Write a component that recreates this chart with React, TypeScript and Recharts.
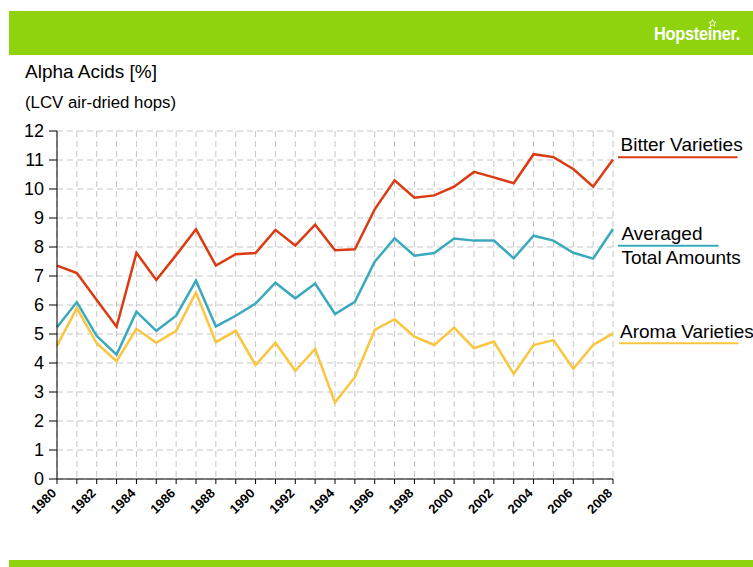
import { LineChart, Line, XAxis, YAxis, CartesianGrid } from "recharts";

const YEARS = [
  1980, 1981, 1982, 1983, 1984, 1985, 1986, 1987, 1988, 1989, 1990, 1991, 1992, 1993, 1994,
  1995, 1996, 1997, 1998, 1999, 2000, 2001, 2002, 2003, 2004, 2005, 2006, 2007, 2008,
];

const BITTER = [
  7.36, 7.1, 6.17, 5.25, 7.8, 6.86, 7.72, 8.61, 7.36, 7.75, 7.79, 8.59, 8.05, 8.77, 7.89,
  7.92, 9.3, 10.3, 9.7, 9.78, 10.08, 10.59, 10.4, 10.2, 11.2, 11.1, 10.69, 10.08, 11.02,
];

const AVERAGED = [
  5.23, 6.1, 4.93, 4.29, 5.77, 5.11, 5.63, 6.84, 5.26, 5.63, 6.05, 6.77, 6.23, 6.74, 5.69,
  6.11, 7.49, 8.3, 7.7, 7.79, 8.29, 8.22, 8.22, 7.61, 8.39, 8.22, 7.8, 7.6, 8.62,
];

const AROMA = [
  4.6, 5.89, 4.68, 4.06, 5.18, 4.7, 5.11, 6.43, 4.72, 5.11, 3.93, 4.7, 3.73, 4.49, 2.64,
  3.51, 5.14, 5.51, 4.91, 4.62, 5.22, 4.51, 4.74, 3.62, 4.62, 4.79, 3.8, 4.62, 5.02,
];

const Y_TICKS = [0, 1, 2, 3, 4, 5, 6, 7, 8, 9, 10, 11, 12];

const GREEN = "#8ed30e";
const RED = "#dc3a10";
const TEAL = "#3aa9bd";
const YELLOW = "#fcc53e";
const FONT = "'Liberation Sans', Arial, sans-serif";

const data = YEARS.map((year, i) => ({
  year,
  bitter: BITTER[i],
  averaged: AVERAGED[i],
  aroma: AROMA[i],
}));

// only even years get a label, every year gets a tick mark
function YearTick(props: any) {
  const { x, y, payload } = props;
  if (payload.value % 2 !== 0) return <g />;
  const ay = y + 8;
  return (
    <text
      x={x}
      y={ay}
      transform={`rotate(-45 ${x} ${ay})`}
      textAnchor="end"
      fontSize={13}
      fontWeight="bold"
      fill="#000"
      fontFamily={FONT}
    >
      {payload.value}
    </text>
  );
}

export default function App() {
  return (
    <div style={{ position: "relative", width: 753, height: 567, fontFamily: FONT, background: "#fff" }}>
      <style>{"body{margin:0}"}</style>
      <div style={{ position: "absolute", left: 0, top: 0 }}>
        <LineChart
          width={753}
          height={567}
          data={data}
          margin={{ top: 131, right: 140, bottom: 48, left: 0 }}
        >
          <CartesianGrid strokeDasharray="6 4" stroke="#c6c6c6" />
          <XAxis
            type="number"
            dataKey="year"
            domain={[1980, 2008]}
            ticks={YEARS}
            interval={0}
            height={40}
            tickSize={5}
            axisLine={{ stroke: "#000" }}
            tickLine={{ stroke: "#000" }}
            tick={<YearTick />}
          />
          <YAxis
            domain={[0, 12]}
            ticks={Y_TICKS}
            interval={0}
            width={57}
            tickSize={8}
            tickMargin={5}
            axisLine={{ stroke: "#000" }}
            tickLine={{ stroke: "#000" }}
            tick={{ fontSize: 18, fill: "#000", fontFamily: FONT }}
          />
          <Line type="linear" dataKey="aroma" stroke={YELLOW} strokeWidth={2.5} dot={false} isAnimationActive={false} />
          <Line type="linear" dataKey="averaged" stroke={TEAL} strokeWidth={2.5} dot={false} isAnimationActive={false} />
          <Line type="linear" dataKey="bitter" stroke={RED} strokeWidth={2.5} dot={false} isAnimationActive={false} />
        </LineChart>
      </div>
      <svg
        width={753}
        height={567}
        style={{ position: "absolute", left: 0, top: 0, pointerEvents: "none" }}
        fontFamily={FONT}
      >
        {/* header band + logo */}
        <rect x={9} y={11} width={744} height={44} fill={GREEN} />
        <g transform="translate(654 40) scale(0.86 1)">
          <text x={0} y={0} fill="#fff" fontSize={19} fontWeight="bold" letterSpacing={-0.3}>
            Hopsteiner.
          </text>
        </g>
        <path
          d="M712.5 19.5 L713.5 22 L716 22.2 L714.1 23.8 L714.8 26.3 L712.5 24.9 L710.2 26.3 L710.9 23.8 L709 22.2 L711.5 22 Z"
          fill="none"
          stroke="#fff"
          strokeWidth={0.8}
        />
        {/* footer band */}
        <rect x={9} y={560} width={744} height={7} fill={GREEN} />

        <text x={25} y={78} fontSize={19} fill="#000">
          Alpha Acids [%]
        </text>
        <text x={25} y={108} fontSize={16.8} fill="#000">
          (LCV air-dried hops)
        </text>

        {/* series labels */}
        <text x={620.5} y={151} fontSize={19} fill="#000">
          Bitter Varieties
        </text>
        <line x1={618} y1={157.3} x2={737.5} y2={157.3} stroke={RED} strokeWidth={2} />
        <text x={621.5} y={240} fontSize={19} fill="#000">
          Averaged
        </text>
        <line x1={618} y1={245.7} x2={718.5} y2={245.7} stroke={TEAL} strokeWidth={2} />
        <text x={621.5} y={263.5} fontSize={19} fill="#000">
          Total Amounts
        </text>
        <text x={620} y={337.5} fontSize={19} fill="#000">
          Aroma Varieties
        </text>
        <line x1={619} y1={343.3} x2={738.5} y2={343.3} stroke={YELLOW} strokeWidth={2} />
      </svg>
    </div>
  );
}
